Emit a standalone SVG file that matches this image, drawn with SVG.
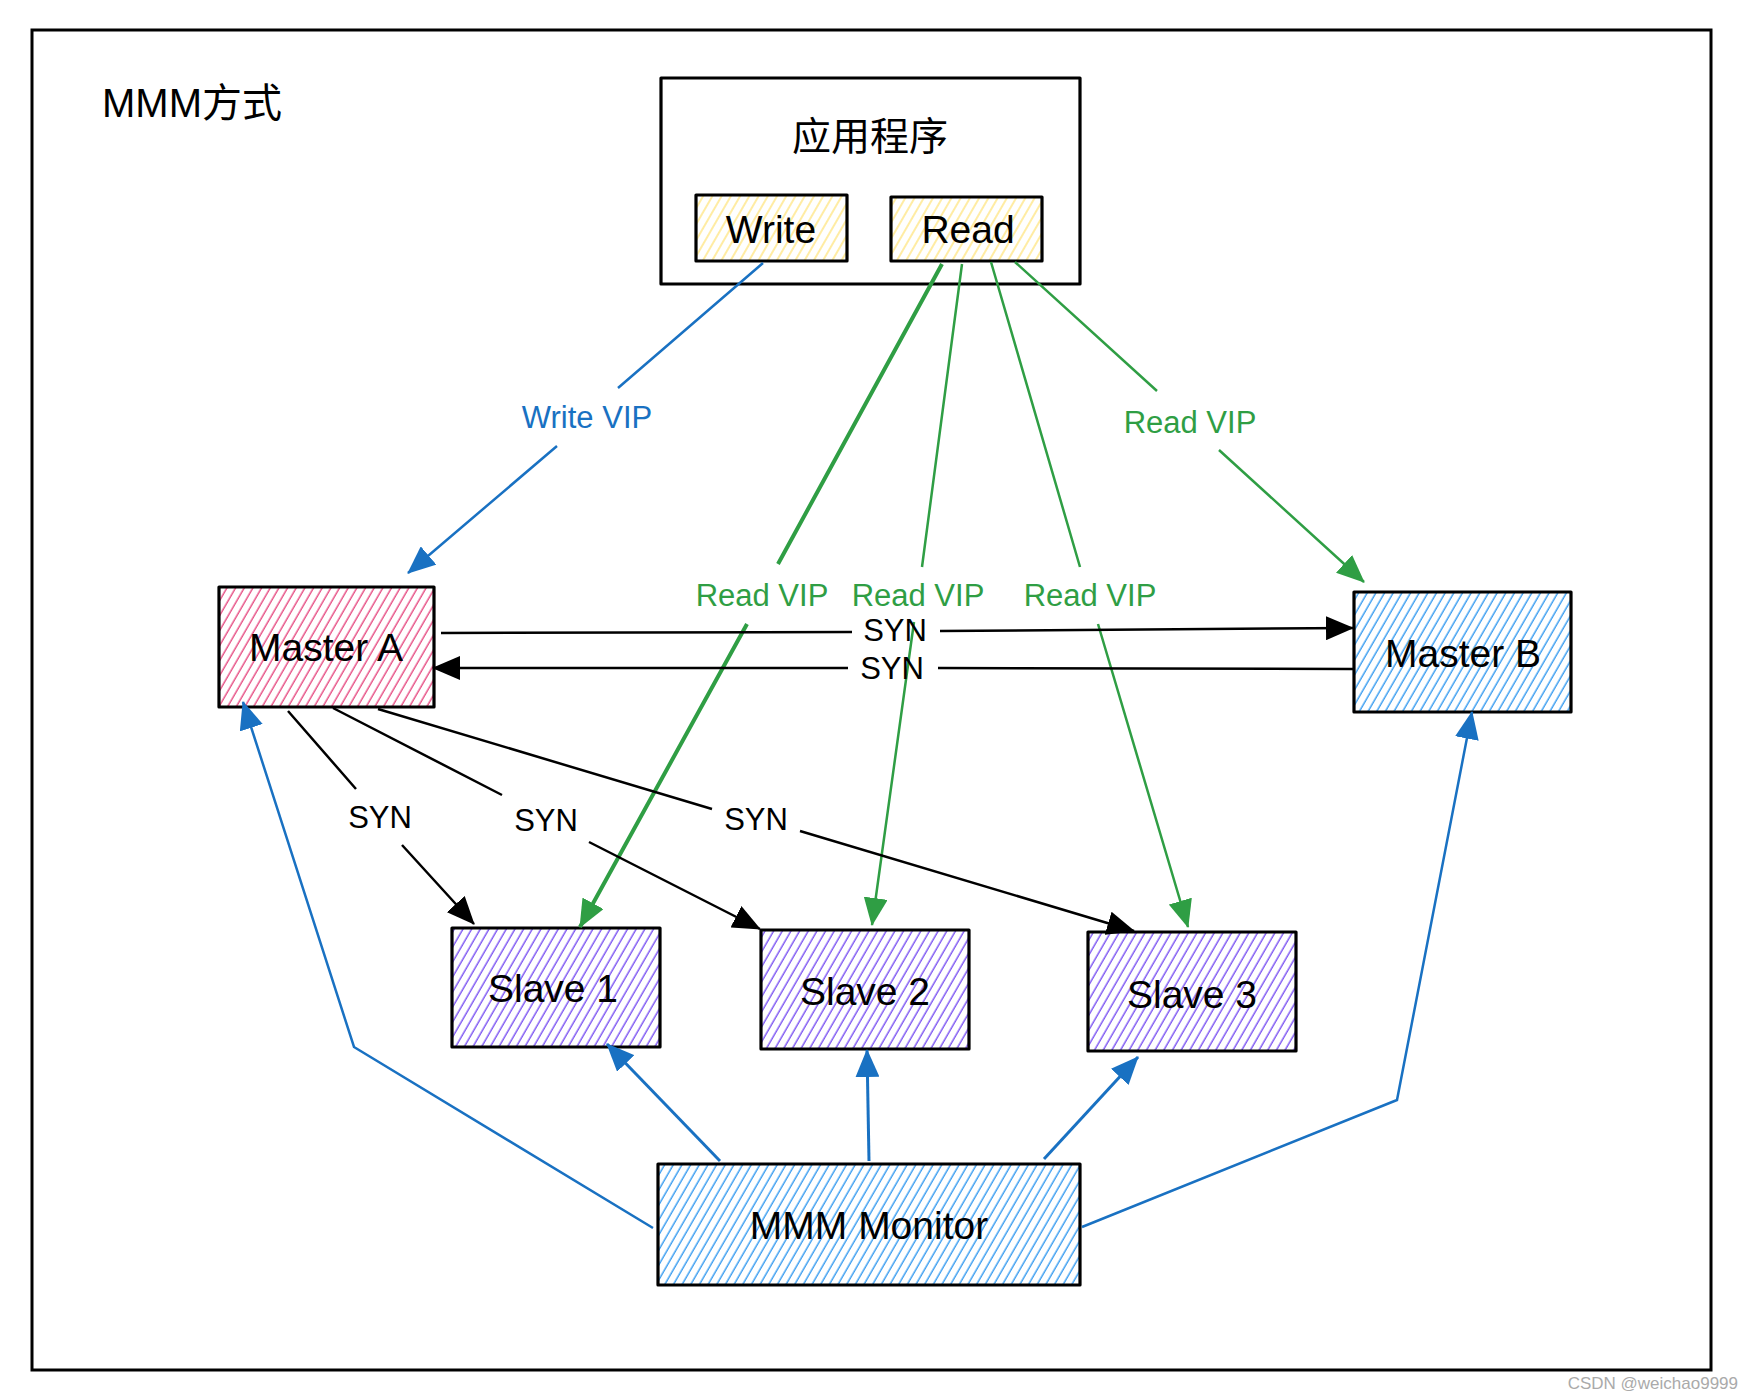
<svg xmlns="http://www.w3.org/2000/svg" width="1742" height="1396" viewBox="0 0 1742 1396">
<style>
.box{stroke:#000;stroke-width:3.2;stroke-linejoin:round}
.lbl{font-family:"Liberation Sans","Noto Sans CJK SC",sans-serif;font-size:39px;fill:#000;text-anchor:middle}
.el{font-family:"Liberation Sans",sans-serif;font-size:31px;text-anchor:middle}
.blk{fill:#000}.grn{fill:#2f9e44}.blu{fill:#1971c2}
.cb{fill:none;stroke:#000;stroke-width:2.5}
.cg{fill:none;stroke:#2f9e44;stroke-width:2.5}
.cu{fill:none;stroke:#1971c2;stroke-width:2.5}
</style>
<defs>
<pattern id="hRed" patternUnits="userSpaceOnUse" width="7.5" height="9" patternTransform="rotate(30)"><line x1="3" y1="0" x2="3" y2="9" stroke="#e64980" stroke-width="1.4"/></pattern>
<pattern id="hBlue" patternUnits="userSpaceOnUse" width="7.5" height="9" patternTransform="rotate(30)"><line x1="3" y1="0" x2="3" y2="9" stroke="#339af0" stroke-width="1.4"/></pattern>
<pattern id="hPur" patternUnits="userSpaceOnUse" width="7.5" height="9" patternTransform="rotate(30)"><line x1="3" y1="0" x2="3" y2="9" stroke="#7950f2" stroke-width="1.4"/></pattern>
<pattern id="hYel" patternUnits="userSpaceOnUse" width="8" height="9" patternTransform="rotate(30)"><line x1="3" y1="0" x2="3" y2="9" stroke="#ffe066" stroke-width="1.2"/></pattern>
<marker id="aB" markerUnits="userSpaceOnUse" viewBox="0 0 28 24" refX="27" refY="12" markerWidth="28" markerHeight="24" orient="auto"><path d="M0,0 L28,12 L0,24 Z" fill="#000"/></marker>
<marker id="aG" markerUnits="userSpaceOnUse" viewBox="0 0 28 24" refX="27" refY="12" markerWidth="28" markerHeight="24" orient="auto"><path d="M0,0 L28,12 L0,24 Z" fill="#2f9e44"/></marker>
<marker id="aU" markerUnits="userSpaceOnUse" viewBox="0 0 28 24" refX="27" refY="12" markerWidth="28" markerHeight="24" orient="auto"><path d="M0,0 L28,12 L0,24 Z" fill="#1971c2"/></marker>
</defs>
<rect width="1742" height="1396" fill="#fff"/>
<rect id="frame" x="32" y="30" width="1679" height="1340" fill="none" stroke="#000" stroke-width="3"/>
<text id="title" x="102" y="117" font-family="Liberation Sans,Noto Sans CJK SC,sans-serif" font-size="40">MMM方式</text>

<g id="app">
<rect class="box" x="661" y="78" width="419" height="206" fill="#fff"/>
<text class="lbl" x="870" y="150">应用程序</text>
</g>
<g id="write">
<rect class="box" x="696" y="195" width="151" height="66" fill="url(#hYel)"/>
<text class="lbl" x="771" y="243">Write</text>
</g>
<g id="read">
<rect class="box" x="891" y="197" width="151" height="64" fill="url(#hYel)"/>
<text class="lbl" x="968" y="243">Read</text>
</g>
<g id="masterA">
<rect class="box" x="219" y="587" width="215" height="120" fill="url(#hRed)"/>
<text class="lbl" x="326" y="661">Master A</text>
</g>
<g id="masterB">
<rect class="box" x="1354" y="592" width="217" height="120" fill="url(#hBlue)"/>
<text class="lbl" x="1463" y="667">Master B</text>
</g>
<g id="slave1">
<rect class="box" x="452" y="928" width="208" height="119" fill="url(#hPur)"/>
<text class="lbl" x="553" y="1002">Slave 1</text>
</g>
<g id="slave2">
<rect class="box" x="761" y="930" width="208" height="119" fill="url(#hPur)"/>
<text class="lbl" x="865" y="1005">Slave 2</text>
</g>
<g id="slave3">
<rect class="box" x="1088" y="932" width="208" height="119" fill="url(#hPur)"/>
<text class="lbl" x="1192" y="1008">Slave 3</text>
</g>
<g id="monitor">
<rect class="box" x="658" y="1164" width="422" height="121" fill="url(#hBlue)"/>
<text class="lbl" x="869" y="1239">MMM Monitor</text>
</g>

<g id="connectors">
<path class="cu" d="M763,263 L618,388 M557,446 L408,573" marker-end="url(#aU)"/>
<text class="el blu" x="587" y="428">Write VIP</text>
<path class="cg" d="M1015,262 L1157,391 M1219,450 L1364,582" marker-end="url(#aG)"/>
<text class="el grn" x="1190" y="433">Read VIP</text>
<path class="cg" style="stroke-width:4" d="M942,264 L778,564 M747,624 L580,927" marker-end="url(#aG)"/>
<text class="el grn" x="762" y="606">Read VIP</text>
<path class="cg" d="M962,264 L922,567 M914,622 L872,925" marker-end="url(#aG)"/>
<text class="el grn" x="918" y="606">Read VIP</text>
<path class="cg" d="M991,262 L1080,567 M1098,624 L1188,927" marker-end="url(#aG)"/>
<text class="el grn" x="1090" y="606">Read VIP</text>

<path class="cb" d="M441,633 L852,632 M940,631 L1353,628" marker-end="url(#aB)"/>
<text class="el blk" x="895" y="641">SYN</text>
<path class="cb" d="M1353,669 L938,668 M848,668 L433,668" marker-end="url(#aB)"/>
<text class="el blk" x="892" y="679">SYN</text>

<path class="cb" d="M288,711 L356,789 M402,845 L474,924" marker-end="url(#aB)"/>
<text class="el blk" x="380" y="828">SYN</text>
<path class="cb" d="M333,708 L502,795 M589,842 L760,929" marker-end="url(#aB)"/>
<text class="el blk" x="546" y="831">SYN</text>
<path class="cb" d="M378,709 L712,809 M800,831 L1134,931" marker-end="url(#aB)"/>
<text class="el blk" x="756" y="830">SYN</text>

<path class="cu" d="M653,1228 L354,1047 L243,702" marker-end="url(#aU)"/>
<path class="cu" style="stroke-width:3" d="M720,1161 L607,1044" marker-end="url(#aU)"/>
<path class="cu" style="stroke-width:3" d="M869,1161 L867,1050" marker-end="url(#aU)"/>
<path class="cu" style="stroke-width:3" d="M1044,1159 L1138,1057" marker-end="url(#aU)"/>
<path class="cu" d="M1082,1227 L1397,1100 L1472,712" marker-end="url(#aU)"/>
</g>
<text id="watermark" x="1738" y="1389" text-anchor="end" font-family="Liberation Sans,sans-serif" font-size="17" fill="#aaa">CSDN @weichao9999</text>
</svg>
